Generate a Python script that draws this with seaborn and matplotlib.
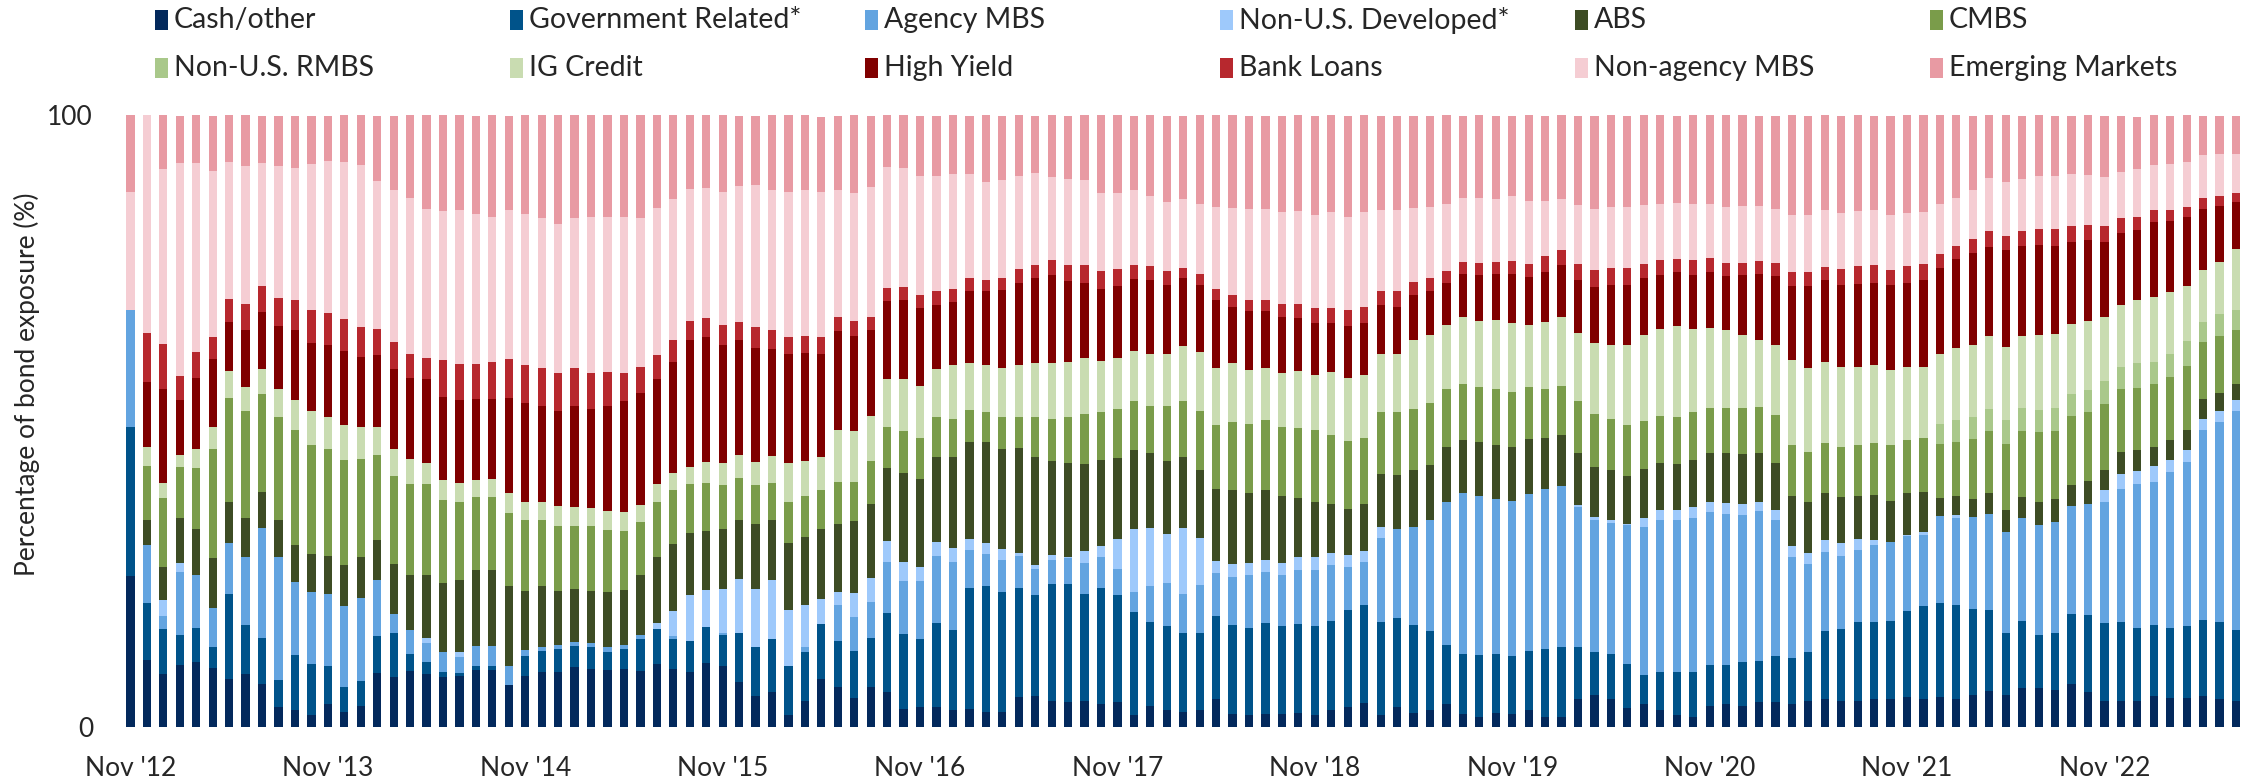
import pandas as pd
import matplotlib
matplotlib.use("Agg")
import matplotlib.pyplot as plt
from matplotlib.patches import Rectangle
import seaborn as sns

# monthly bars, Nov 2012 .. Jul 2023
months = pd.period_range("2012-11", "2023-07", freq="M")
month_labels = [m.strftime("%b '%y") for m in months]

# share of bond exposure (%), bottom to top
cash_other = [
    24.7, 11.0, 8.7, 10.1, 10.7, 9.7, 7.8, 8.7, 7.1, 3.2,
    2.8, 2.0, 3.7, 2.5, 3.5, 8.8, 8.1, 9.1, 8.7, 8.1,
    8.3, 9.3, 9.3, 6.9, 8.3, 9.0, 9.0, 9.8, 9.5, 9.3,
    9.5, 9.1, 10.3, 9.5, 9.0, 10.5, 10.0, 7.3, 5.1, 5.7,
    2.0, 4.3, 7.8, 6.5, 4.7, 6.5, 5.7, 2.9, 3.3, 3.3,
    2.7, 2.9, 2.5, 2.5, 4.9, 5.1, 4.3, 4.1, 4.3, 3.7,
    4.1, 2.0, 3.5, 2.8, 2.5, 2.7, 4.5, 2.1, 2.0, 2.2,
    2.2, 2.3, 2.0, 2.7, 3.3, 3.9, 2.0, 3.3, 2.3, 2.8,
    3.7, 2.1, 1.7, 2.3, 2.1, 2.7, 1.7, 1.7, 4.5, 5.3,
    4.5, 3.1, 3.7, 2.7, 2.0, 1.7, 3.5, 3.7, 3.5, 4.1,
    4.1, 3.7, 4.3, 4.5, 4.3, 4.3, 4.5, 4.5, 4.9, 4.5,
    4.9, 4.5, 5.3, 5.9, 5.3, 6.3, 6.3, 6.0, 7.0, 5.7,
    4.3, 4.3, 4.3, 5.0, 4.7, 4.7, 5.0, 4.5, 4.3,
]
government_related = [
    24.4, 9.2, 7.3, 5.0, 5.5, 3.3, 14.0, 7.9, 7.5, 4.5,
    8.9, 8.3, 6.3, 4.0, 4.0, 6.1, 7.2, 2.9, 2.0, 0.9,
    0.5, 0.7, 0.7, 0.0, 3.3, 3.5, 3.7, 3.4, 3.5, 3.0,
    3.2, 5.2, 5.7, 4.9, 5.0, 5.9, 5.0, 8.0, 8.0, 8.7,
    8.0, 8.0, 9.1, 7.6, 7.7, 8.1, 12.9, 12.3, 11.1, 13.7,
    13.2, 19.8, 20.5, 19.6, 17.8, 16.4, 19.0, 19.2, 17.5, 19.0,
    17.4, 16.8, 13.6, 13.7, 12.8, 12.7, 13.6, 14.6, 14.2, 14.8,
    14.3, 14.5, 14.5, 14.7, 15.8, 16.0, 15.2, 14.5, 14.4, 12.9,
    9.7, 9.9, 10.0, 9.7, 9.5, 9.7, 11.0, 11.3, 8.5, 7.0,
    7.5, 7.2, 4.8, 6.3, 7.0, 7.3, 6.7, 6.5, 7.2, 6.7,
    7.5, 7.5, 8.0, 11.2, 11.7, 12.9, 12.7, 12.8, 14.0, 15.2,
    15.4, 15.4, 14.0, 13.3, 10.0, 11.1, 8.8, 9.3, 11.5, 12.6,
    12.7, 12.9, 11.9, 11.7, 11.5, 11.8, 12.5, 12.7, 11.5,
]
agency_mbs = [
    19.0, 9.6, 2.2, 10.2, 8.7, 6.5, 8.2, 11.1, 17.9, 20.0,
    12.0, 11.7, 11.8, 13.2, 13.6, 9.1, 3.2, 3.9, 3.1, 3.3,
    2.7, 3.3, 3.3, 3.1, 1.0, 0.5, 0.7, 0.7, 0.7, 0.8,
    0.7, 0.7, 0.0, 0.5, 0.0, 0.0, 0.3, 0.0, 0.0, 0.0,
    0.0, 0.7, 0.0, 5.9, 5.5, 5.9, 8.3, 8.7, 9.5, 11.0,
    11.1, 6.3, 5.3, 5.2, 5.3, 4.3, 4.0, 4.3, 5.0, 5.0,
    4.3, 3.3, 5.9, 7.0, 6.5, 7.8, 7.0, 7.8, 8.6, 8.3,
    8.3, 8.9, 9.2, 9.0, 7.0, 7.0, 13.7, 14.6, 16.0, 18.2,
    23.4, 26.2, 26.0, 25.2, 25.4, 25.7, 26.2, 26.4, 23.0, 21.5,
    21.4, 22.7, 24.1, 24.9, 24.9, 25.2, 24.9, 24.6, 24.0, 24.5,
    22.2, 16.6, 14.4, 12.9, 12.0, 11.8, 12.5, 13.0, 12.3, 11.7,
    14.2, 14.2, 15.0, 15.6, 16.5, 16.7, 17.9, 18.2, 17.6, 18.2,
    19.7, 21.7, 23.5, 23.4, 25.5, 26.8, 31.0, 32.7, 35.8,
]
non_us_developed = [
    0.0, 0.0, 2.5, 1.5, 0.0, 0.0, 0.0, 0.0, 0.0, 0.0,
    0.0, 0.0, 0.0, 0.0, 0.0, 0.0, 0.0, 0.0, 0.7, 0.0,
    0.7, 0.0, 0.0, 0.0, 0.0, 0.0, 0.0, 0.0, 0.0, 0.0,
    0.0, 0.0, 1.0, 4.0, 7.5, 6.0, 7.2, 8.9, 9.5, 9.7,
    9.1, 7.0, 4.0, 2.0, 4.0, 3.9, 3.5, 3.1, 2.3, 2.3,
    2.3, 1.7, 1.8, 1.8, 0.5, 0.7, 0.8, 0.2, 1.9, 1.9,
    5.0, 10.2, 9.5, 8.1, 10.7, 7.7, 2.1, 2.1, 2.0, 2.0,
    2.0, 2.0, 2.0, 2.1, 2.0, 1.8, 1.8, 0.0, 0.0, 0.0,
    0.0, 0.0, 0.0, 0.0, 0.0, 0.0, 0.0, 0.0, 0.3, 0.5,
    0.5, 0.2, 1.5, 1.6, 1.6, 1.7, 1.7, 1.8, 1.8, 1.5,
    1.6, 1.7, 1.8, 2.0, 2.1, 1.8, 0.9, 0.0, 0.2, 0.5,
    0.0, 0.5, 0.0, 0.0, 0.0, 0.0, 0.0, 0.0, 0.0, 0.0,
    2.0, 2.5, 2.1, 2.5, 2.0, 2.0, 1.9, 1.7, 1.8,
]
abs_ = [
    0.0, 4.1, 5.5, 7.3, 7.4, 8.1, 6.7, 6.5, 5.9, 6.1,
    6.1, 6.3, 6.2, 6.7, 6.7, 6.5, 8.1, 8.9, 10.3, 11.3,
    11.9, 12.3, 12.3, 13.0, 9.7, 10.0, 8.8, 8.6, 8.5, 9.0,
    9.0, 9.8, 10.7, 11.0, 10.2, 9.7, 9.8, 9.6, 10.5, 9.8,
    11.0, 11.0, 11.5, 11.2, 11.7, 12.0, 12.0, 14.5, 14.4, 13.9,
    14.8, 15.8, 16.4, 16.4, 17.1, 17.7, 15.4, 15.3, 14.2, 14.0,
    13.1, 12.9, 12.2, 11.9, 11.7, 11.1, 11.7, 12.1, 11.5, 11.5,
    11.0, 9.7, 9.1, 8.0, 7.5, 7.8, 8.7, 8.7, 9.3, 8.9,
    8.9, 8.7, 8.8, 8.9, 8.8, 8.9, 8.3, 8.3, 8.5, 8.2,
    8.1, 7.8, 8.0, 7.7, 7.4, 7.8, 7.9, 8.1, 8.1, 8.0,
    7.7, 8.2, 8.2, 7.6, 7.5, 7.0, 7.3, 6.7, 6.8, 6.5,
    3.0, 3.1, 3.0, 3.5, 3.7, 3.5, 3.8, 3.8, 3.5, 3.7,
    3.3, 3.5, 3.5, 3.1, 3.2, 3.3, 3.2, 2.9, 2.7,
]
cmbs = [
    0.0, 8.8, 11.2, 8.4, 10.1, 17.8, 17.1, 17.4, 16.0, 16.9,
    18.7, 17.8, 17.4, 17.2, 16.0, 14.0, 14.4, 14.9, 14.9, 13.5,
    12.7, 12.0, 12.0, 11.9, 11.5, 10.8, 10.7, 10.3, 10.7, 10.1,
    9.7, 8.7, 9.0, 8.9, 8.0, 7.7, 7.3, 6.9, 6.5, 5.9,
    6.7, 6.7, 6.3, 6.8, 6.5, 7.0, 6.7, 6.9, 6.7, 6.5,
    6.3, 5.3, 5.0, 5.1, 5.1, 6.5, 6.9, 7.5, 8.3, 7.9,
    8.1, 8.0, 7.7, 9.0, 9.0, 9.6, 10.5, 11.2, 11.2, 11.3,
    11.2, 11.5, 11.7, 11.2, 11.2, 10.7, 10.1, 10.3, 10.0, 10.1,
    9.5, 9.1, 9.0, 9.1, 8.9, 8.6, 8.0, 8.0, 8.4, 8.6,
    8.3, 8.3, 7.9, 7.7, 7.8, 7.8, 7.5, 7.5, 7.5, 7.5,
    7.9, 8.3, 8.3, 8.2, 8.2, 8.3, 8.5, 9.0, 8.7, 8.8,
    8.8, 8.8, 9.7, 10.1, 10.7, 10.8, 11.4, 11.1, 11.2, 11.3,
    10.7, 10.3, 10.1, 10.3, 10.3, 10.4, 9.3, 9.4, 8.8,
]
non_us_rmbs = [
    0.0, 0.0, 0.0, 0.0, 0.0, 0.0, 0.0, 0.0, 0.0, 0.0,
    0.0, 0.0, 0.0, 0.0, 0.0, 0.0, 0.0, 0.0, 0.0, 0.0,
    0.0, 0.0, 0.0, 0.0, 0.0, 0.0, 0.0, 0.0, 0.0, 0.0,
    0.0, 0.0, 0.0, 0.0, 0.0, 0.0, 0.0, 0.0, 0.0, 0.0,
    0.0, 0.0, 0.0, 0.0, 0.0, 0.0, 0.0, 0.0, 0.0, 0.0,
    0.0, 0.0, 0.0, 0.0, 0.0, 0.0, 0.0, 0.0, 0.0, 0.0,
    0.0, 0.0, 0.0, 0.0, 0.0, 0.0, 0.0, 0.0, 0.0, 0.0,
    0.0, 0.0, 0.0, 0.0, 0.0, 0.0, 0.0, 0.0, 0.0, 0.0,
    0.0, 0.0, 0.0, 0.0, 0.0, 0.0, 0.0, 0.0, 0.0, 0.0,
    0.0, 0.0, 0.0, 0.0, 0.0, 0.0, 0.0, 0.0, 0.0, 0.0,
    0.0, 0.0, 0.0, 0.0, 0.0, 0.0, 0.0, 0.0, 0.0, 0.0,
    3.2, 3.7, 3.7, 3.6, 4.0, 3.7, 3.6, 3.7, 3.6, 3.5,
    3.8, 3.7, 4.0, 3.7, 3.8, 4.0, 3.3, 3.6, 3.2,
]
ig_credit = [
    0.0, 3.0, 2.5, 1.9, 3.1, 3.7, 4.3, 4.0, 4.1, 4.6,
    5.0, 5.5, 5.3, 5.7, 5.3, 4.5, 4.5, 4.1, 3.5, 3.2,
    3.1, 2.8, 3.0, 3.3, 2.9, 2.9, 3.2, 3.2, 2.9, 3.1,
    3.1, 2.8, 3.0, 2.7, 2.8, 3.5, 3.5, 3.8, 3.7, 4.5,
    6.3, 5.7, 5.5, 8.5, 8.2, 7.4, 7.7, 8.5, 8.5, 7.8,
    8.7, 7.7, 7.7, 8.0, 8.5, 8.8, 9.1, 9.0, 9.1, 8.3,
    8.3, 8.3, 8.5, 8.5, 9.1, 9.7, 9.3, 9.6, 8.9, 8.5,
    8.8, 9.2, 9.0, 10.3, 10.3, 10.3, 9.4, 9.5, 11.3, 11.2,
    10.5, 11.0, 10.9, 11.3, 11.3, 10.1, 10.9, 11.3, 11.1, 11.7,
    12.2, 13.2, 14.0, 14.2, 14.9, 13.6, 13.0, 12.7, 11.9, 11.0,
    11.4, 13.9, 13.7, 13.2, 13.0, 12.8, 12.8, 12.3, 12.0, 11.7,
    11.5, 11.7, 11.7, 11.9, 11.9, 11.8, 12.2, 12.1, 11.5, 11.3,
    10.5, 10.1, 10.3, 10.5, 10.1, 9.0, 8.5, 8.5, 10.0,
]
high_yield = [
    0.0, 10.7, 15.4, 9.1, 11.5, 11.0, 8.0, 9.3, 9.3, 10.2,
    11.3, 11.2, 11.7, 12.1, 11.3, 11.8, 13.0, 13.2, 13.6, 13.7,
    13.6, 13.2, 13.0, 15.5, 16.2, 15.7, 15.6, 16.4, 16.2, 17.2,
    18.0, 18.2, 17.2, 18.2, 20.7, 20.4, 19.4, 18.7, 18.7, 17.5,
    17.8, 17.7, 16.8, 16.2, 15.6, 14.0, 12.8, 12.8, 12.6, 10.5,
    10.3, 11.7, 12.0, 12.8, 13.4, 13.9, 14.4, 13.2, 12.3, 11.7,
    11.7, 11.7, 12.1, 11.3, 11.0, 10.9, 11.0, 9.2, 9.5, 9.3,
    9.2, 8.7, 8.5, 8.0, 8.5, 8.5, 8.1, 7.8, 7.3, 7.2,
    6.8, 7.0, 7.5, 7.5, 8.0, 7.8, 8.3, 8.5, 8.8, 9.1,
    9.7, 9.8, 9.3, 8.8, 8.8, 8.8, 9.1, 8.8, 9.8, 10.8,
    11.3, 12.2, 13.4, 13.4, 13.5, 13.5, 13.4, 13.9, 13.7, 14.2,
    14.0, 14.6, 15.0, 14.6, 15.8, 14.7, 14.7, 14.4, 13.4, 13.2,
    12.3, 11.7, 11.5, 12.3, 11.5, 11.3, 9.9, 9.1, 7.7,
]
bank_loans = [
    0.0, 7.9, 7.3, 3.8, 4.3, 3.6, 3.8, 4.3, 4.2, 4.6,
    5.0, 5.4, 5.3, 5.3, 5.0, 4.2, 4.4, 3.9, 3.5, 5.9,
    5.8, 5.7, 6.0, 6.5, 6.3, 6.3, 6.1, 6.3, 5.9, 5.5,
    4.7, 4.4, 3.9, 3.5, 3.2, 3.2, 3.2, 3.0, 3.3, 3.0,
    2.9, 2.8, 2.8, 2.3, 2.4, 2.2, 2.2, 2.2, 2.2, 2.3,
    2.2, 2.1, 1.9, 2.0, 2.3, 2.1, 2.4, 2.7, 2.9, 3.0,
    2.9, 2.3, 2.3, 2.2, 1.7, 1.8, 1.9, 1.9, 1.8, 1.8,
    2.1, 2.3, 2.5, 2.5, 2.5, 2.7, 2.2, 2.5, 2.1, 2.1,
    2.0, 2.0, 2.0, 2.0, 2.2, 2.1, 2.5, 2.4, 2.5, 2.8,
    2.8, 2.7, 2.3, 2.4, 2.1, 2.4, 2.3, 2.2, 2.0, 2.1,
    2.2, 2.3, 2.3, 2.2, 2.5, 2.9, 2.9, 2.5, 2.7, 2.5,
    2.3, 2.1, 2.3, 2.5, 2.3, 2.5, 2.7, 2.7, 2.5, 2.5,
    2.5, 2.5, 2.2, 1.9, 1.9, 1.7, 1.8, 1.7, 1.5,
]
non_agency_mbs = [
    19.4, 35.7, 28.5, 34.9, 30.8, 27.2, 22.4, 22.4, 20.2, 21.6,
    21.6, 23.8, 24.8, 25.6, 26.4, 24.2, 24.8, 25.5, 24.3, 24.4,
    25.1, 24.5, 23.8, 24.3, 24.6, 24.5, 24.4, 24.4, 25.4, 25.4,
    25.5, 24.2, 24.0, 23.0, 21.5, 21.2, 21.7, 22.2, 23.2, 23.0,
    23.6, 23.9, 23.6, 20.8, 21.0, 21.2, 19.7, 19.4, 19.4, 18.7,
    18.7, 17.0, 16.0, 15.9, 15.2, 15.1, 13.6, 14.1, 13.8, 12.8,
    12.3, 12.2, 11.4, 11.3, 11.3, 11.5, 13.4, 14.2, 14.9, 14.9,
    15.1, 15.2, 15.2, 15.6, 15.3, 15.4, 13.3, 13.3, 12.1, 11.5,
    11.0, 10.5, 10.5, 10.3, 10.5, 10.4, 9.1, 8.3, 9.7, 9.9,
    9.9, 9.9, 9.7, 9.1, 9.2, 9.1, 8.9, 9.0, 9.3, 8.9,
    8.8, 9.2, 9.3, 9.2, 9.2, 9.0, 9.0, 8.9, 8.7, 8.5,
    8.1, 7.9, 8.1, 8.7, 8.9, 8.4, 8.7, 8.7, 8.5, 8.2,
    8.0, 7.5, 7.8, 7.5, 7.5, 7.4, 7.0, 6.9, 6.3,
]
emerging_markets = [
    12.5, 0.0, 8.9, 7.7, 7.9, 8.9, 7.7, 8.4, 7.7, 8.2,
    8.5, 7.9, 7.4, 7.7, 8.2, 10.7, 12.2, 13.6, 15.4, 15.7,
    15.7, 16.1, 16.8, 15.4, 16.2, 16.8, 17.9, 16.9, 16.9, 16.6,
    16.6, 16.9, 15.2, 13.8, 12.1, 12.1, 12.6, 11.5, 11.4, 12.2,
    12.6, 12.2, 12.3, 12.1, 12.8, 11.7, 8.5, 8.9, 9.9, 9.9,
    9.9, 9.5, 10.9, 10.5, 9.9, 9.3, 10.1, 10.3, 10.7, 12.8,
    12.8, 12.2, 13.4, 14.0, 13.6, 14.6, 15.0, 15.2, 15.2, 15.2,
    15.7, 15.7, 16.2, 15.9, 16.4, 15.9, 15.4, 15.4, 15.0, 15.0,
    14.6, 13.4, 13.6, 13.6, 13.2, 14.0, 13.9, 13.8, 14.6, 15.2,
    15.2, 15.0, 14.8, 14.6, 14.2, 14.6, 14.6, 15.2, 14.9, 14.8,
    15.1, 16.6, 16.2, 15.7, 15.9, 15.7, 15.4, 16.2, 16.0, 15.9,
    14.6, 13.6, 12.1, 10.5, 10.9, 10.3, 9.9, 9.9, 9.5, 9.9,
    10.1, 9.2, 8.5, 8.1, 7.9, 7.7, 6.5, 6.2, 6.3,
]

sectors = ["Cash/other", "Government Related*", "Agency MBS", "Non-U.S. Developed*",
           "ABS", "CMBS", "Non-U.S. RMBS", "IG Credit", "High Yield", "Bank Loans",
           "Non-agency MBS", "Emerging Markets"]
colors = ["#03295c", "#00538a", "#63a4e0", "#9ec9fb", "#3d4c24", "#7a9c4a",
          "#a9c88a", "#c9dcb1", "#800000", "#b7282e", "#f5cdd3", "#e89aa3"]

df = pd.DataFrame({
    "month": month_labels,
    "Cash/other": cash_other,
    "Government Related*": government_related,
    "Agency MBS": agency_mbs,
    "Non-U.S. Developed*": non_us_developed,
    "ABS": abs_,
    "CMBS": cmbs,
    "Non-U.S. RMBS": non_us_rmbs,
    "IG Credit": ig_credit,
    "High Yield": high_yield,
    "Bank Loans": bank_loans,
    "Non-agency MBS": non_agency_mbs,
    "Emerging Markets": emerging_markets,
})
# cumulative tops, so each layer can be drawn over the one above it
tops = df[sectors].cumsum(axis=1)
tops["month"] = df["month"]

sns.set_theme(style="white")
plt.rcParams["font.family"] = ["Lato", "DejaVu Sans"]
FS = 19
LEG_FS = 20.5

W, H = 2251, 784
fig = plt.figure(figsize=(W / 100, H / 100), dpi=100)
ax = fig.add_axes([0.0543, 0.0727, 0.9427, 0.7806])

for name, color in reversed(list(zip(sectors, colors))):
    sns.barplot(data=tops, x="month", y=name, order=month_labels, color=color,
                saturation=1, width=0.5, errorbar=None, linewidth=0, ax=ax)

ax.set_xlim(-0.5, len(month_labels) - 0.5)
ax.set_ylim(0, 100)
nov_idx = list(range(0, len(month_labels), 12))
ax.set_xticks(nov_idx)
ax.set_xticklabels([month_labels[i] for i in nov_idx], fontsize=FS)
ax.set_yticks([0, 100])
ax.set_yticklabels(["0", "100"], fontsize=FS)
ax.tick_params(axis="x", length=0, pad=21)
ax.tick_params(axis="y", length=0, pad=21)
ax.set_xlabel("")
ax.set_ylabel("Percentage of bond exposure (%)", fontsize=FS)
ax.yaxis.set_label_coords(-0.0388, 0.56)
sns.despine(ax=ax, left=True, bottom=True)
ax.grid(False)

# legend laid out as an even 6 x 2 grid
for i, (name, color) in enumerate(zip(sectors, colors)):
    row, col = divmod(i, 6)
    x0 = 155 + col * 355
    yc = 20 + row * 48
    fig.add_artist(Rectangle((x0 / W, 1 - (yc + 10) / H), 13 / W, 20 / H,
                             transform=fig.transFigure, color=color, lw=0))
    fig.text((x0 + 19) / W, 1 - yc / H, name, va="center", ha="left", fontsize=LEG_FS)

fig.savefig("out.png", dpi=100)
